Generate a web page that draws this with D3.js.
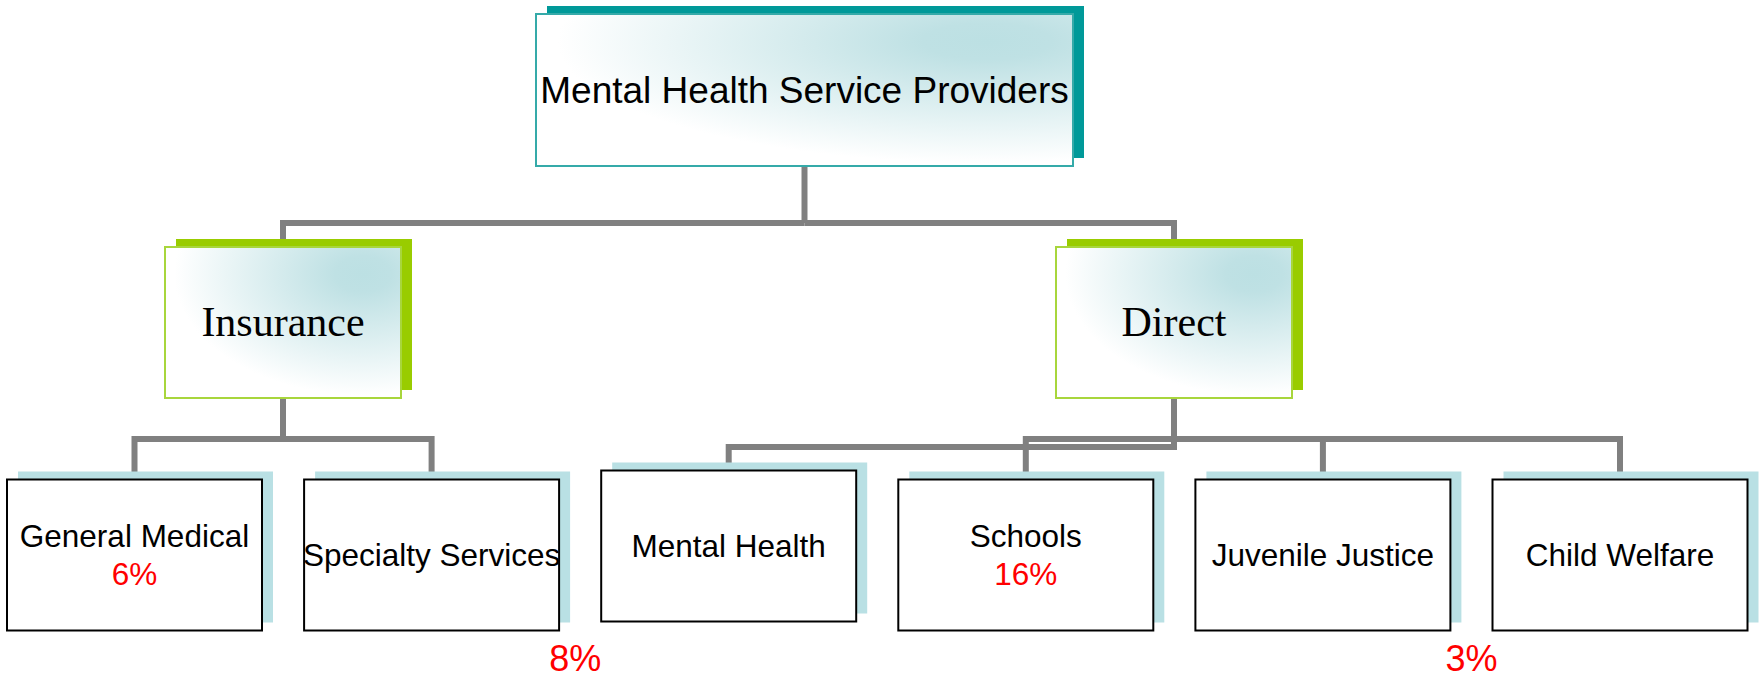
<!DOCTYPE html>
<html>
<head>
<meta charset="utf-8">
<script src="https://cdn.jsdelivr.net/npm/d3@7"></script>
<style>
  html, body { margin: 0; padding: 0; background: #fff; }
  svg { display: block; }
</style>
</head>
<body>
<div id="my_dataviz"></div>
<script>
// chart data
var rootName = "Mental Health Service Providers";
var branchNames = ["Insurance", "Direct"];
var leafNames = ["General Medical", "Specialty Services", "Mental Health", "Schools", "Juvenile Justice", "Child Welfare"];
var leafParents = ["Insurance", "Insurance", "Direct", "Direct", "Direct", "Direct"];
var leafShares = ["6%", "", "", "16%", "", ""];
// percentages that sit under the boxes, between two neighbours
var looseShares = ["8%", "3%"];
var looseAfter = ["Specialty Services", "Juvenile Justice"];

var width = 1763,
    height = 684;

var svg = d3.select("#my_dataviz")
  .append("svg")
    .attr("width", width)
    .attr("height", height);

// light teal glow in the upper right of the top two levels
var defs = svg.append("defs");
var grad = defs.append("radialGradient")
    .attr("id", "glow")
    .attr("cx", 0.84).attr("cy", 0.18).attr("r", 0.8)
    .attr("fx", 0.84).attr("fy", 0.18);
grad.append("stop").attr("offset", 0).attr("stop-color", "#bce0e3");
grad.append("stop").attr("offset", 0.15).attr("stop-color", "#bfe1e4");
grad.append("stop").attr("offset", 1).attr("stop-color", "#ffffff");

// positions of each level
var rootX = d3.scalePoint().domain([rootName]).range([804.5, 804.5]);
var branchX = d3.scalePoint().domain(branchNames).range([283, 1174]);
var leafX = d3.scalePoint().domain(leafNames).range([134.5, 1620]);

var root = {w: 537, h: 152, top: 14};
var branch = {w: 236, h: 151, top: 247};
var leaf = {w: 255, h: 151, top: 479.5};
var shadowDx = 11, shadowDy = -8;
var elbowY = 439;
var leafFont = 31.5;

// the "Mental Health" box sits a bit higher than the others
function leafLift(name) {
  return name == "Mental Health" ? 9 : 0;
}

// connectors first so the boxes cover their ends
var lines = svg.append("g")
    .attr("fill", "none")
    .attr("stroke", "#808080")
    .attr("stroke-width", 6);

var topElbow = 223;
lines.append("path")
  .attr("d", "M" + rootX(rootName) + "," + (root.top + root.h) + "V" + topElbow);
lines.selectAll("path.branch")
  .data(branchNames)
  .enter()
  .append("path")
  .attr("class", "branch")
  .attr("d", function(d) {
      return "M" + rootX(rootName) + "," + topElbow + "H" + branchX(d) + "V" + branch.top;
  });

lines.selectAll("path.leaf")
  .data(leafNames)
  .enter()
  .append("path")
  .attr("class", "leaf")
  .attr("d", function(d, i) {
      var px = branchX(leafParents[i]);
      var lift = leafLift(d);
      var ey = elbowY + lift * 0.9;
      return "M" + px + "," + (branch.top + branch.h) + "V" + ey +
             "H" + leafX(d) + "V" + (leaf.top - lift + shadowDy + 1);
  });

// draws one box with its offset shadow
function drawBoxes(cls, names, xs, dims, opts) {
  var g = svg.selectAll("g." + cls)
    .data(names)
    .enter()
    .append("g")
    .attr("class", cls)
    .attr("transform", function(d) {
        var lift = opts.lift ? opts.lift(d) : 0;
        return "translate(" + (xs(d) - dims.w / 2) + "," + (dims.top - lift) + ")";
    });

  g.append("rect")
    .attr("x", shadowDx).attr("y", shadowDy)
    .attr("width", dims.w).attr("height", dims.h)
    .attr("fill", opts.shadow);

  g.append("rect")
    .attr("width", dims.w).attr("height", dims.h)
    .attr("fill", opts.fill)
    .attr("stroke", opts.stroke)
    .attr("stroke-width", 2);

  return g;
}

drawBoxes("root", [rootName], rootX, root, {
    shadow: "#009999", fill: "url(#glow)", stroke: "#35aaa9"
  })
  .append("text")
    .attr("x", root.w / 2)
    .attr("y", root.h / 2 + 37 * 0.358)
    .attr("text-anchor", "middle")
    .attr("font-family", "Liberation Sans, Arial, sans-serif")
    .attr("font-size", 37)
    .attr("fill", "#000")
    .text(function(d) { return d; });

drawBoxes("branch", branchNames, branchX, branch, {
    shadow: "#99cc00", fill: "url(#glow)", stroke: "#a8d63c"
  })
  .append("text")
    .attr("x", branch.w / 2)
    .attr("y", branch.h / 2 + 42 * 0.33)
    .attr("text-anchor", "middle")
    .attr("font-family", "Liberation Serif, Times New Roman, serif")
    .attr("font-size", 42)
    .attr("fill", "#000")
    .text(function(d) { return d; });

var leafG = drawBoxes("leaf", leafNames, leafX, leaf, {
    shadow: "#b9e0e4", fill: "#ffffff", stroke: "#000000",
    lift: leafLift
  });

leafG.each(function(d, i) {
  var g = d3.select(this);
  var share = leafShares[i];
  var cy = leaf.h / 2 + leafFont * 0.358;
  g.append("text")
    .attr("x", leaf.w / 2)
    .attr("y", share ? cy - 19 : cy)
    .attr("text-anchor", "middle")
    .attr("font-family", "Liberation Sans, Arial, sans-serif")
    .attr("font-size", leafFont)
    .attr("fill", "#000")
    .text(d);
  if (share) {
    g.append("text")
      .attr("x", leaf.w / 2)
      .attr("y", cy + 19)
      .attr("text-anchor", "middle")
      .attr("font-family", "Liberation Sans, Arial, sans-serif")
      .attr("font-size", leafFont)
      .attr("fill", "#ff0000")
      .text(share);
  }
});

// the two percentages under the row of boxes
svg.selectAll("text.loose")
  .data(looseShares)
  .enter()
  .append("text")
  .attr("class", "loose")
  .attr("x", function(d, i) { return leafX(looseAfter[i]) + leafX.step() / 2 - (i == 0 ? 5 : 0); })
  .attr("y", 671)
  .attr("text-anchor", "middle")
  .attr("font-family", "Liberation Sans, Arial, sans-serif")
  .attr("font-size", 36)
  .attr("fill", "#ff0000")
  .text(function(d) { return d; });
</script>
</body>
</html>
